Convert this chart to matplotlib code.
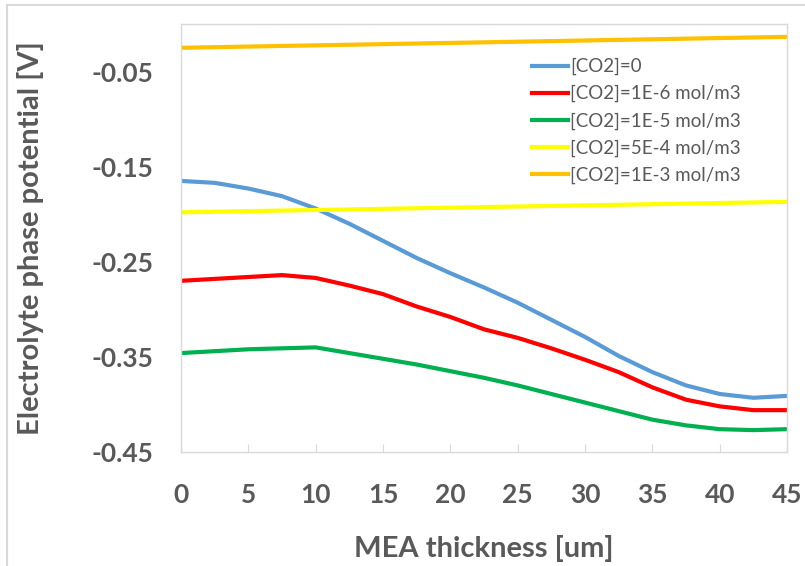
import numpy as np
import matplotlib.pyplot as plt
from matplotlib.patches import Rectangle

# MEA thickness [um]
x = [0, 2.5, 5, 7.5, 10, 12.5, 15, 17.5, 20, 22.5, 25, 27.5, 30,
     32.5, 35, 37.5, 40, 42.5, 45]

co2_0 = [-0.165, -0.167, -0.173, -0.181, -0.194, -0.210, -0.228, -0.246, -0.262,
         -0.277, -0.293, -0.311, -0.329, -0.349, -0.366, -0.380, -0.389, -0.393, -0.391]
co2_1e6 = [-0.270, -0.268, -0.266, -0.264, -0.267, -0.275, -0.284, -0.297, -0.308,
           -0.321, -0.330, -0.341, -0.353, -0.366, -0.382, -0.395, -0.402, -0.406, -0.406]
co2_1e5 = [-0.346, -0.344, -0.342, -0.341, -0.340, -0.346, -0.352, -0.358, -0.365,
           -0.372, -0.380, -0.389, -0.398, -0.407, -0.416, -0.422, -0.426, -0.427, -0.426]
x_lin = [0, 45]
co2_5e4 = [-0.198, -0.187]
co2_1e3 = [-0.025, -0.0135]

labels = ['[CO2]=0', '[CO2]=1E-6 mol/m3', '[CO2]=1E-5 mol/m3',
          '[CO2]=5E-4 mol/m3', '[CO2]=1E-3 mol/m3']
colors = ['#5b9bd5', '#ff0000', '#00b050', '#ffff00', '#ffc000']

plt.rcParams['font.family'] = ['Lato', 'DejaVu Sans']
txt = '#595959'

fig = plt.figure(figsize=(8.05, 5.66), dpi=100)
ax = fig.add_axes([181/805, 1 - 452/566, 606/805, 428/566])

ax.plot(x, co2_0, color=colors[0], lw=3, label=labels[0])
ax.plot(x, co2_1e6, color=colors[1], lw=3, label=labels[1])
ax.plot(x, co2_1e5, color=colors[2], lw=3, label=labels[2])
ax.plot(x_lin, co2_5e4, color=colors[3], lw=3, label=labels[3])
ax.plot(x_lin, co2_1e3, color=colors[4], lw=3, label=labels[4])

ax.set_xlim(0, 45)
ax.set_ylim(-0.45, 0)
ax.set_xticks(np.arange(0, 46, 5))
ax.set_yticks([-0.45, -0.35, -0.25, -0.15, -0.05])
ax.set_yticklabels(['-0.45', '-0.35', '-0.25', '-0.15', '-0.05'])

for s in ax.spines.values():
    s.set_color('#d9d9d9')
    s.set_linewidth(1)
ax.tick_params(axis='x', direction='in', length=6, color='#d9d9d9', pad=22,
               labelsize=19, labelcolor=txt)
ax.tick_params(axis='y', length=0, pad=20, labelsize=19, labelcolor=txt)
for t in ax.get_xticklabels() + ax.get_yticklabels():
    t.set_fontweight('bold')

ax.set_xlabel('MEA thickness [um]', fontsize=21, fontweight='bold', color=txt)
ax.set_ylabel('Electrolyte phase potential [V]', fontsize=21, fontweight='bold', color=txt)
ax.xaxis.set_label_coords(0.5, (452 - 548) / 428)
ax.xaxis.label.set_va('center')
ax.yaxis.set_label_coords((31 - 181) / 606, 0.5)
ax.yaxis.label.set_va('center')

leg = ax.legend(loc='upper left', bbox_to_anchor=((532 - 181) / 606, 1 - (58 - 24) / 428),
                frameon=False, fontsize=13.5, handlelength=1.9, handletextpad=0.15,
                labelspacing=0.52, borderaxespad=0, borderpad=0)
for t in leg.get_texts():
    t.set_color(txt)

# outer chart border
fig.patches.append(Rectangle((7/805, -0.1), 1.2, 1 - 5/566 + 0.1, transform=fig.transFigure,
                             fill=False, edgecolor='#d9d9d9', lw=1.5))

fig.savefig('out.png', dpi=100)
